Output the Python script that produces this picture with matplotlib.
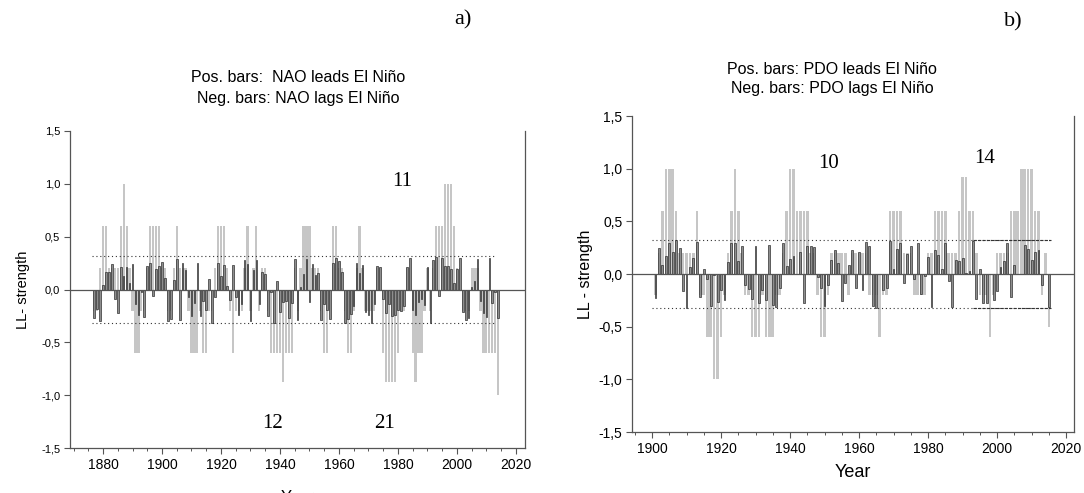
import numpy as np
import matplotlib
matplotlib.use("Agg")
import matplotlib.pyplot as plt
from matplotlib.ticker import MultipleLocator, FuncFormatter

# ---- panel a: NAO vs El Nino, 1877-2014 ----
nao_years = np.arange(1877, 2015)
nao_dark = [
    -0.27, -0.18, -0.30, 0.04, 0.17, 0.17, 0.24, -0.09, -0.22, 0.21,
    0.13, 0.21, 0.06, 0.24, -0.14, -0.24, -0.02, -0.26, 0.22, 0.25,
    -0.06, 0.19, 0.22, 0.26, 0.11, -0.30, -0.28, 0.09, 0.29, -0.29,
    0.25, 0.18, -0.07, -0.25, -0.13, 0.25, -0.25, -0.11, -0.19, 0.10,
    -0.32, -0.07, 0.25, 0.13, 0.23, 0.03, -0.10, 0.23, -0.07, -0.24,
    -0.14, 0.28, 0.24, -0.30, 0.18, 0.28, -0.14, 0.17, 0.15, -0.25,
    -0.02, -0.32, 0.08, -0.21, -0.12, -0.11, -0.27, -0.13, 0.29, -0.29,
    0.02, 0.15, 0.29, -0.12, 0.24, 0.14, 0.16, -0.29, -0.14, -0.19,
    -0.28, 0.25, 0.30, 0.27, 0.17, -0.32, -0.28, -0.23, -0.16, 0.25,
    0.16, 0.23, -0.21, -0.24, -0.32, -0.14, 0.22, 0.21, -0.09, -0.22,
    -0.14, -0.25, -0.24, -0.19, -0.20, -0.16, 0.21, 0.30, -0.19, -0.24,
    -0.12, -0.09, -0.15, 0.21, -0.32, 0.28, 0.31, -0.06, 0.30, 0.22,
    0.22, 0.19, 0.06, 0.19, 0.30, -0.21, -0.29, -0.27, 0.02, 0.08,
    0.29, -0.11, -0.22, -0.26, 0.30, -0.13, -0.02, -0.27,
]
nao_light = [
    -0.2, -0.2, 0.2, 0.6, 0.6, 0.2, 0.2, 0.2, 0.2, 0.6,
    1.0, 0.6, 0.2, -0.2, -0.6, -0.6, -0.2, -0.2, 0.2, 0.6,
    0.6, 0.6, 0.6, 0.2, 0.2, -0.2, -0.2, 0.2, 0.6, 0.2,
    0.2, 0.2, -0.2, -0.6, -0.6, -0.6, -0.2, -0.6, -0.6, -0.2,
    -0.2, 0.2, 0.6, 0.6, 0.6, 0.2, -0.2, -0.6, -0.2, -0.2,
    -0.2, 0.2, 0.6, -0.2, 0.2, 0.6, -0.2, 0.2, 0.2, -0.2,
    -0.6, -0.6, -0.6, -0.6, -0.88, -0.6, -0.6, -0.6, 0.2, -0.2,
    0.2, 0.6, 0.6, 0.6, 0.2, 0.2, 0.2, -0.2, -0.6, -0.6,
    -0.2, 0.6, 0.6, 0.2, 0.2, -0.2, -0.6, -0.6, -0.2, 0.2,
    0.6, 0.2, -0.2, -0.2, -0.2, -0.2, 0.2, 0.2, -0.6, -0.88,
    -0.88, -0.88, -0.88, -0.6, -0.2, -0.2, 0.2, 0.2, -0.6, -0.88,
    -0.6, -0.6, -0.2, 0.2, -0.2, 0.2, 0.6, 0.6, 0.6, 1.0,
    1.0, 1.0, 0.6, 0.2, 0.2, -0.2, -0.2, -0.2, 0.2, 0.2,
    0.2, -0.2, -0.6, -0.6, -0.6, -0.6, -0.6, -1.0,
]

# ---- panel b: PDO vs El Nino, 1901-2015 ----
pdo_years = np.arange(1901, 2016)
pdo_dark = [
    -0.23, 0.25, 0.09, 0.17, 0.29, 0.21, 0.32, 0.25, -0.16, -0.32,
    0.07, 0.15, 0.30, -0.22, 0.05, -0.05, -0.30, -0.01, -0.27, -0.15,
    -0.25, 0.11, 0.29, 0.29, 0.12, 0.27, -0.10, -0.14, -0.24, 0.27,
    -0.28, -0.15, -0.25, 0.28, -0.29, -0.31, -0.13, 0.29, 0.08, 0.14,
    0.17, 0.0, 0.21, -0.28, 0.27, 0.27, 0.26, -0.03, -0.13, -0.30,
    -0.10, 0.13, 0.23, 0.10, -0.26, -0.09, 0.09, 0.23, -0.13, 0.21,
    -0.15, 0.30, 0.27, -0.30, -0.32, 0.0, -0.15, -0.13, 0.31, 0.05,
    0.24, 0.29, -0.09, 0.19, 0.27, -0.05, 0.29, -0.19, -0.02, 0.16,
    -0.31, 0.23, 0.18, 0.05, 0.29, -0.07, -0.31, 0.13, 0.12, 0.15,
    0.01, 0.03, 0.31, -0.24, 0.05, -0.28, -0.28, 0.0, -0.25, -0.16,
    0.07, 0.12, 0.29, -0.22, 0.09, 0.0, 0.0, 0.28, 0.24, 0.13,
    0.21, 0.23, -0.10, 0.0, -0.31,
]
pdo_light = [
    -0.2, 0.2, 0.6, 1.0, 1.0, 1.0, 0.6, 0.2, 0.2, 0.2,
    0.2, 0.2, 0.6, -0.2, -0.2, -0.6, -0.6, -1.0, -1.0, -0.6,
    -0.2, 0.2, 0.6, 1.0, 0.6, 0.2, -0.2, -0.2, -0.6, -0.6,
    -0.6, -0.2, -0.6, -0.6, -0.6, -0.2, -0.2, 0.2, 0.6, 1.0,
    1.0, 0.6, 0.6, 0.6, 0.6, 0.2, 0.2, -0.2, -0.6, -0.6,
    -0.2, 0.2, 0.2, 0.2, 0.2, 0.2, -0.2, 0.2, 0.2, 0.2,
    0.2, 0.2, -0.2, -0.2, -0.2, -0.6, -0.2, -0.2, 0.6, 0.6,
    0.6, 0.6, 0.2, 0.2, 0.2, -0.2, -0.2, -0.2, -0.2, 0.2,
    0.2, 0.6, 0.6, 0.6, 0.6, 0.2, 0.2, 0.2, 0.6, 0.92,
    0.92, 0.6, 0.6, 0.2, -0.2, -0.2, -0.2, -0.6, -0.2, 0.2,
    0.2, 0.2, 0.2, 0.6, 0.6, 0.6, 1.0, 1.0, 1.0, 1.0,
    0.6, 0.6, -0.2, 0.2, -0.5,
]

sig_level = 0.32

W, H = 1084, 493
plt.rcParams['font.family'] = ['Liberation Sans', 'DejaVu Sans']
fig = plt.figure(figsize=(W / 100, H / 100), dpi=100)


def px_axes(x0, y0, x1, y1):
    # pixel box (top-left origin) -> axes
    return fig.add_axes([x0 / W, 1 - y1 / H, (x1 - x0) / W, (y1 - y0) / H])


def comma(v, pos):
    return f"{v:.1f}".replace('.', ',')


def draw_panel(ax, years, light, dark, xlim, xfs, yfs):
    ax.bar(years, light, width=0.75, color='#c6c6c6', linewidth=0, zorder=1)
    ax.bar(years, dark, width=0.55, color='#8e8e8e', edgecolor='#202020',
           linewidth=0.45, zorder=2)
    ax.axhline(0, color='#555555', lw=0.9, zorder=3)
    ax.set_xlim(*xlim)
    ax.set_ylim(-1.5, 1.5)
    ax.yaxis.set_major_locator(MultipleLocator(0.5))
    ax.yaxis.set_major_formatter(FuncFormatter(comma))
    ax.xaxis.set_major_locator(MultipleLocator(20))
    ax.xaxis.set_minor_locator(MultipleLocator(5))
    ax.spines['top'].set_visible(False)
    for s in ('left', 'bottom', 'right'):
        ax.spines[s].set_color('#555555')
        ax.spines[s].set_linewidth(0.9)
    ax.tick_params(axis='both', which='major', length=4, width=0.8,
                   color='#555555', pad=3)
    ax.tick_params(axis='x', labelsize=xfs)
    ax.tick_params(axis='y', labelsize=yfs)
    ax.tick_params(axis='x', which='minor', length=2.5, width=0.7, color='#555555')
    ax.tick_params(axis='y', which='both', right=False)


# panel a
ax1 = px_axes(70, 131, 525, 448)
draw_panel(ax1, nao_years, nao_light, nao_dark, (1868.8, 2023.1), 10, 8)
ax1.hlines([sig_level, -sig_level], 1876.3, 2012.5, colors='#333333',
           linestyles=(0, (1, 2.5)), lw=0.8, zorder=3)
ax1.set_ylabel('LL- strength', fontsize=10.5, labelpad=8)
ax1.text(1981.4, 1.02, '11', family='Liberation Serif', fontsize=15,
         ha='center', va='center')
ax1.text(1937.5, -1.27, '12', family='Liberation Serif', fontsize=15,
         ha='center', va='center')
ax1.text(1975.4, -1.27, '21', family='Liberation Serif', fontsize=15,
         ha='center', va='center')

# panel b
ax2 = px_axes(632, 116, 1074, 432)
draw_panel(ax2, pdo_years, pdo_light, pdo_dark, (1894.2, 2022.3), 10, 10)
ax2.hlines([sig_level, -sig_level], 1900, 2015.6, colors='#333333',
           linestyles=(0, (1, 2.5)), lw=0.8, zorder=3)
ax2.hlines([sig_level, -sig_level], 1993, 2015.6, colors='#333333',
           linestyles=(0, (3, 1)), lw=0.8, zorder=3)
ax2.set_ylabel('LL - strength', fontsize=11.5, labelpad=4)
ax2.set_xlabel('Year', fontsize=13, labelpad=6)
ax2.text(1951.3, 1.05, '10', family='Liberation Serif', fontsize=15,
         ha='center', va='center')
ax2.text(1996.5, 1.10, '14', family='Liberation Serif', fontsize=15,
         ha='center', va='center')

# titles and panel letters
fig.text(298 / W, 1 - 77 / H, 'Pos. bars:  NAO leads El Niño', fontsize=11.5,
         ha='center', va='center')
fig.text(298 / W, 1 - 99 / H, 'Neg. bars: NAO lags El Niño', fontsize=11.5,
         ha='center', va='center')
fig.text(832 / W, 1 - 69 / H, 'Pos. bars: PDO leads El Niño', fontsize=11.5,
         ha='center', va='center')
fig.text(832 / W, 1 - 89 / H, 'Neg. bars: PDO lags El Niño', fontsize=11.5,
         ha='center', va='center')
fig.text(463 / W, 1 - 20 / H, 'a)', family='Liberation Serif', fontsize=16,
         ha='center', va='center')
fig.text(1013 / W, 1 - 22 / H, 'b)', family='Liberation Serif', fontsize=16,
         ha='center', va='center')
# panel a x label is cut off by the bottom edge in the original
fig.text(298 / W, 1 - 497 / H, 'Year', fontsize=12, ha='center', va='center')

fig.savefig('out.png', dpi=100)
